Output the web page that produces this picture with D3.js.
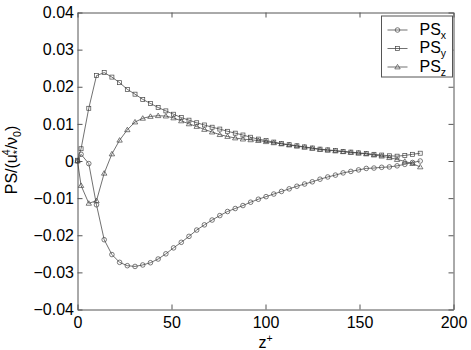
<!DOCTYPE html>
<html>
<head>
<meta charset="utf-8">
<script src="https://cdn.jsdelivr.net/npm/d3@7"></script>
<style>
  body { margin: 0; background: #fff; }
  svg text { font-family: "Liberation Sans", Arial, Helvetica, sans-serif; fill: #000; }
</style>
</head>
<body>
<svg id="chart" width="471" height="350"></svg>
<script>
'use strict';

// wall distance z+ of the stored planes
const zPlus = [0, 1.9, 6.0, 10.1, 14.2, 18.3, 22.4, 26.5, 30.6, 34.7, 38.8, 42.9, 47.0, 51.1,
  55.2, 59.3, 63.4, 67.5, 71.6, 75.7, 79.8, 83.9, 88.0, 92.1, 96.2, 100.3, 104.4, 108.5,
  112.6, 116.7, 120.8, 124.9, 129.0, 133.1, 137.2, 141.3, 145.4, 149.5, 153.6, 157.7,
  161.8, 165.9, 170.0, 174.1, 178.2, 182.3];

const psX = [0.0000, 0.0018, -0.0007, -0.0118, -0.0212, -0.0252, -0.0273, -0.0282, -0.0284,
  -0.0280, -0.0274, -0.0264, -0.0250, -0.0234, -0.0219, -0.0203, -0.0186, -0.0172, -0.0159,
  -0.0147, -0.0136, -0.0128, -0.0120, -0.0111, -0.0103, -0.0096, -0.0089, -0.0082, -0.0075,
  -0.0068, -0.0062, -0.0056, -0.0049, -0.0043, -0.0038, -0.0032, -0.0028, -0.0024, -0.0020,
  -0.0019, -0.0017, -0.0016, -0.0013, -0.0009, -0.0004, 0.0000];

const psY = [0.0002, 0.0033, 0.0142, 0.0230, 0.0238, 0.0226, 0.0211, 0.0193, 0.0180, 0.0166,
  0.0155, 0.0144, 0.0135, 0.0126, 0.0117, 0.0110, 0.0103, 0.0097, 0.0091, 0.0086, 0.0080,
  0.0075, 0.0070, 0.0064, 0.0059, 0.0055, 0.0051, 0.0047, 0.0044, 0.0041, 0.0038, 0.0035,
  0.0032, 0.0030, 0.0028, 0.0026, 0.0024, 0.0022, 0.0020, 0.0018, 0.0016, 0.0014, 0.0013,
  0.0015, 0.0018, 0.0021];

const psZ = [0.0000, -0.0066, -0.0114, -0.0107, -0.0033, 0.0019, 0.0056, 0.0084, 0.0105, 0.0115,
  0.0120, 0.0122, 0.0121, 0.0116, 0.0108, 0.0100, 0.0093, 0.0085, 0.0078, 0.0071, 0.0066,
  0.0062, 0.0059, 0.0057, 0.0055, 0.0052, 0.0049, 0.0046, 0.0043, 0.0040, 0.0037, 0.0034,
  0.0031, 0.0029, 0.0027, 0.0025, 0.0023, 0.0021, 0.0019, 0.0016, 0.0013, 0.0009, 0.0004,
  -0.0001, -0.0007, -0.0016];

const seriesNames = ['x', 'y', 'z'];
const xTicks = [0, 50, 100, 150, 200];
const yTicks = [-0.04, -0.03, -0.02, -0.01, 0, 0.01, 0.02, 0.03, 0.04];

const margin = { top: 12.5, right: 17.5, bottom: 40.5, left: 77.5 },
      width = 471 - margin.left - margin.right,
      height = 350 - margin.top - margin.bottom;

const svg = d3.select('#chart');
const graph = svg.append('g')
    .attr('transform', `translate(${margin.left}, ${margin.top})`);

const x = d3.scaleLinear().domain([0, 200]).range([0, width]);
const y = d3.scaleLinear().domain([-0.04, 0.04]).range([height, 0]);

const axisColor = '#555';
const fmtY = d => d === 0 ? '0' : d3.format('.2f')(d);

// axes with inward ticks, box on all four sides
graph.append('g')
    .attr('transform', `translate(0, ${height})`)
    .call(d3.axisBottom(x).tickValues(xTicks).tickSizeInner(-5).tickSizeOuter(0).tickPadding(7));
graph.append('g')
    .call(d3.axisLeft(y).tickValues(yTicks).tickFormat(fmtY).tickSizeInner(-5).tickSizeOuter(0).tickPadding(3.5));
graph.append('g')
    .call(d3.axisTop(x).tickValues(xTicks).tickFormat('').tickSizeInner(-5).tickSizeOuter(0));
graph.append('g')
    .attr('transform', `translate(${width}, 0)`)
    .call(d3.axisRight(y).tickValues(yTicks).tickFormat('').tickSizeInner(-5).tickSizeOuter(0));

graph.selectAll('.domain, .tick line').attr('stroke', axisColor);
graph.selectAll('.tick text').attr('font-size', 16).attr('fill', '#000');

// marker symbols
const markers = {
  x: g => g.append('circle').attr('r', 2.3),
  y: g => g.append('rect').attr('x', -2).attr('y', -2).attr('width', 4).attr('height', 4),
  z: g => g.append('path').attr('d', 'M0,-2.6L2.7,1.9L-2.7,1.9Z')
};

const series = [psX, psY, psZ].map((vals, i) => ({
  name: seriesNames[i],
  points: zPlus.map((z, j) => ({ z, v: vals[j] }))
}));

const line = d3.line().x(d => x(d.z)).y(d => y(d.v));

series.forEach(s => {
  const g = graph.append('g').attr('class', `ps-${s.name}`);
  g.append('path')
      .attr('d', line(s.points))
      .attr('fill', 'none')
      .attr('stroke', '#333')
      .attr('stroke-width', 0.7);
  g.selectAll('g.mk')
    .data(s.points)
    .join('g')
      .attr('class', 'mk')
      .attr('transform', d => `translate(${x(d.z)}, ${y(d.v)})`)
      .each(function () { markers[s.name](d3.select(this)); });
  g.selectAll('.mk *')
      .attr('fill', 'none')
      .attr('stroke', '#444')
      .attr('stroke-width', 0.7);
});

// legend
const legend = graph.append('g').attr('transform', `translate(${width - 72}, 3.5)`);
legend.append('rect')
    .attr('width', 71).attr('height', 61)
    .attr('fill', '#fff').attr('stroke', axisColor);

series.forEach((s, i) => {
  const row = legend.append('g').attr('transform', `translate(0, ${14 + i * 18.5})`);
  row.append('line').attr('x1', 6).attr('x2', 26).attr('y1', 0).attr('y2', 0)
      .attr('stroke', '#333').attr('stroke-width', 0.7);
  const mk = row.append('g').attr('transform', 'translate(16, 0)');
  markers[s.name](mk);
  mk.selectAll('*').attr('fill', 'none').attr('stroke', '#444').attr('stroke-width', 0.7);
  const t = row.append('text').attr('x', 38).attr('y', 0).attr('dy', '0.3em').attr('font-size', 16);
  t.append('tspan').text('PS');
  t.append('tspan').attr('font-size', 10.5).attr('dy', 4).text(s.name);
});

// axis titles
const xt = svg.append('text')
    .attr('x', margin.left + width / 2)
    .attr('y', 348)
    .attr('text-anchor', 'middle')
    .attr('font-size', 16);
xt.append('tspan').text('z');
xt.append('tspan').attr('font-size', 10.5).attr('dy', -6).text('+');

const yt = svg.append('text')
    .attr('transform', 'translate(17, 160) rotate(-90)')
    .attr('text-anchor', 'middle')
    .attr('font-size', 16);
yt.append('tspan').text('PS/(u');
yt.append('tspan').attr('font-size', 10.5).attr('dy', 4).text('*');
yt.append('tspan').attr('font-size', 10.5).attr('dx', -5).attr('dy', -11).text('4');
yt.append('tspan').attr('dy', 7).text('/ν');
yt.append('tspan').attr('font-size', 10.5).attr('dy', 4).text('0');
yt.append('tspan').attr('dy', -4).text(')');
</script>
</body>
</html>
